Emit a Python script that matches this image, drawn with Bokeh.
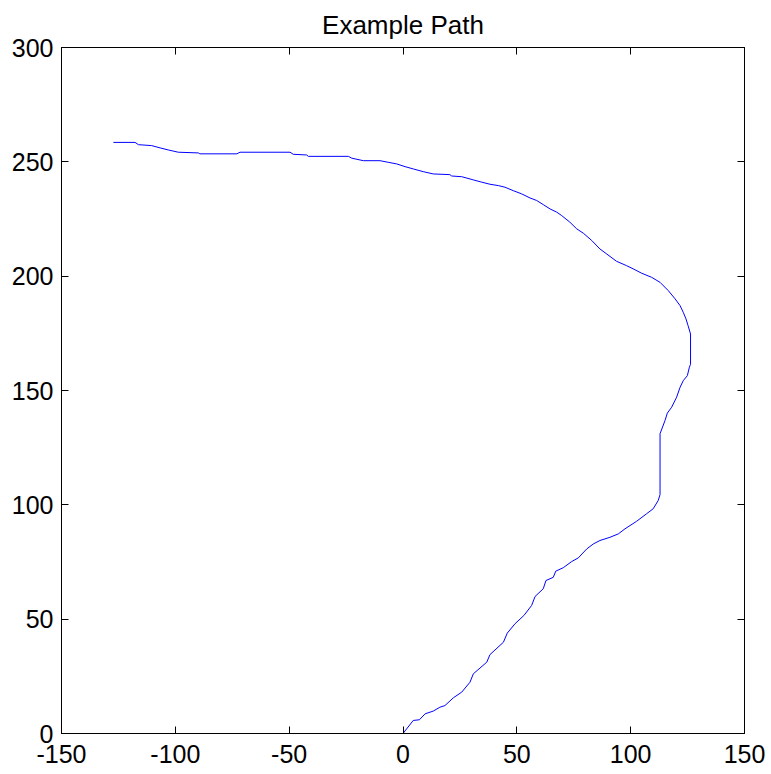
from bokeh.plotting import figure
from bokeh.models import Range1d, FixedTicker, LinearAxis, CustomJSTickFormatter
from bokeh.embed import file_html
from bokeh.resources import INLINE

# Path coordinates
path_x = [0, 4.5, 7.2, 9.7, 13.3, 16.2, 18.4, 22.1, 25.8, 29.4, 30.9, 36.8, 38.2, 44.1, 45.8,
          49.2, 53.1, 56.5, 58.0, 61.6, 62.8, 66.0, 67.1, 70.4, 74.1, 77.0, 80.7, 83.6, 86.5,
          90.9, 94.6, 97.5, 102.6, 107.0, 109.9, 112.1, 112.9, 112.9, 115.1, 116.1, 118.0,
          120.2, 121.7, 123.1, 124.9, 125.8, 126.3, 126.3, 125.2, 124.3, 123.1, 121.7, 119.5,
          116.5, 112.9, 109.2, 104.8, 101.1, 98.2, 93.8, 89.5, 86.5, 82.9, 79.2, 76.3, 73.3,
          69.7, 67.5, 64.6, 61.6, 58.7, 55.8, 52.1, 48.4, 44.8, 41.9, 38.2, 34.6, 30.9, 25.8,
          21.4, 20.6, 13.3, 8.9, 4.5, 0.9, -2.8, -6.5, -10.1, -17.4, -22.5, -24.0, -41.6,
          -42.3, -48.2, -49.6, -71.6, -73.0, -89.2, -89.9, -98.7, -103.1, -106.7, -110.4,
          -116.2, -117.7, -127.2]
path_y = [0, 5.7, 6.0, 8.6, 9.8, 11.5, 12.2, 15.6, 18.1, 22.4, 26.1, 31.2, 34.5, 39.9, 43.9,
          48.0, 51.6, 56.0, 59.9, 63.3, 66.9, 68.3, 71.0, 72.5, 75.2, 76.8, 80.7, 82.9, 84.4,
          85.8, 87.3, 89.5, 92.8, 96.1, 98.3, 101.9, 104.5, 131.1, 136.9, 140.1, 142.7,
          147.1, 151.4, 154.3, 156.5, 160.2, 161.5, 174.7, 178.4, 181.3, 184.2, 187.1, 190.1,
          193.7, 197.3, 199.5, 201.3, 203.2, 204.6, 206.5, 209.7, 211.9, 215.6, 218.8, 220.7,
          223.6, 226.5, 228.0, 229.4, 231.3, 233.1, 234.2, 236.0, 237.4, 238.9, 239.6, 240.2,
          241.1, 242.1, 243.5, 243.8, 244.4, 244.7, 245.7, 246.9, 247.9, 249.1, 249.8, 250.5,
          250.5, 251.6, 252.4, 252.4, 253.0, 253.3, 254.2, 254.2, 253.5, 253.5, 253.9, 254.2,
          255.2, 256.1, 257.1, 257.5, 258.5, 258.5]

x_ticks = [-150, -100, -50, 0, 50, 100, 150]
x_tick_labels = ["-150", "-100", "-50", "0", "50", "100", "150"]
y_ticks = [0, 50, 100, 150, 200, 250, 300]
y_tick_labels = ["0", "50", "100", "150", "200", "250", "300"]
title_text = "Example Path"

FONT = "Liberation Sans"

p = figure(width=771, height=774, output_backend="svg", toolbar_location=None,
           x_range=Range1d(-150, 150), y_range=Range1d(0, 300),
           min_border_left=61, min_border_right=27, min_border_top=47, min_border_bottom=41,
           title=title_text)
p.title.text_font = FONT
p.title.text_font_size = "26px"
p.title.text_font_style = "normal"
p.title.align = "center"
p.title.vertical_align = "top"
p.title.text_color = "black"
p.title.standoff = 11

p.grid.visible = False
p.outline_line_color = "black"
p.outline_line_width = 1
p.background_fill_color = "white"
p.border_fill_color = "white"

for ax, ticks, labels in ((p.xaxis[0], x_ticks, x_tick_labels),
                          (p.yaxis[0], y_ticks, y_tick_labels)):
    ax.ticker = FixedTicker(ticks=ticks)
    ax.major_label_overrides = {t: s for t, s in zip(ticks, labels)}
    ax.major_tick_in = 7
    ax.major_tick_out = 0
    ax.minor_tick_in = 0
    ax.minor_tick_out = 0
    ax.axis_line_color = "black"
    ax.major_tick_line_color = "black"
    ax.major_label_text_font = FONT
    ax.major_label_text_font_size = "25px"
    ax.major_label_text_color = "black"
p.xaxis[0].major_label_standoff = 11
p.yaxis[0].major_label_standoff = 8

for side, ticks in (("above", x_ticks), ("right", y_ticks)):
    ax = LinearAxis(ticker=FixedTicker(ticks=ticks),
                    formatter=CustomJSTickFormatter(code="return ''"))
    ax.major_tick_in = 7
    ax.major_tick_out = 0
    ax.minor_tick_in = 0
    ax.minor_tick_out = 0
    ax.major_label_text_font_size = "1px"
    ax.major_label_standoff = 0
    ax.axis_line_color = "black"
    ax.major_tick_line_color = "black"
    p.add_layout(ax, side)

p.line(path_x, path_y, line_color="#0000ff", line_width=1)

open("out.html", "w").write(file_html(p, INLINE))
